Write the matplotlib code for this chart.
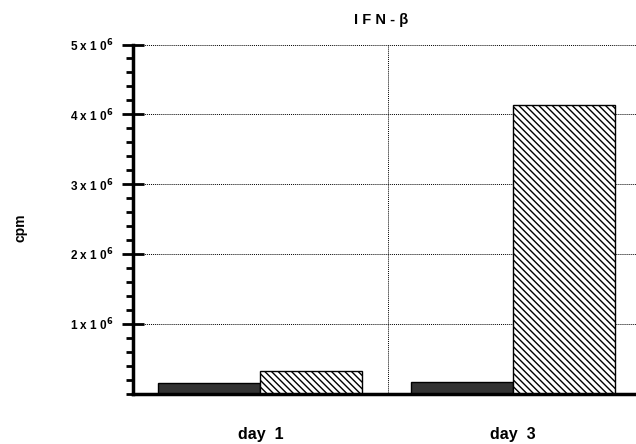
import matplotlib
matplotlib.use("Agg")
import matplotlib.pyplot as plt
from matplotlib.ticker import FixedLocator, MultipleLocator, FuncFormatter

plt.rcParams['font.family'] = ['Liberation Sans', 'DejaVu Sans']
plt.rcParams['mathtext.default'] = 'bf'
plt.rcParams['hatch.linewidth'] = 1.0

# data
days = ["day  1", "day  3"]
solid_vals = [0.146e6, 0.16e6]
hatched_vals = [0.327e6, 4.13e6]
group_centers = [0.5, 1.49]
major_ticks = [1e6, 2e6, 3e6, 4e6, 5e6]

fig = plt.figure(figsize=(6.36, 4.44), dpi=100)
ax = fig.add_axes([0.209, 0.1137, 0.802, 0.786])

w = 0.4
ax.bar([c - w / 2 for c in group_centers], solid_vals, width=w,
       color='#333333', edgecolor='black', linewidth=1.0, zorder=3)
ax.bar([c + w / 2 for c in group_centers], hatched_vals, width=w,
       color='white', edgecolor='black', linewidth=1.0,
       hatch='\\\\\\\\\\', zorder=3)

ax.set_xlim(0, 2)
ax.set_ylim(0, 5e6)

ax.yaxis.set_major_locator(FixedLocator(major_ticks))
ax.yaxis.set_minor_locator(MultipleLocator(0.2e6))
ax.yaxis.set_major_formatter(FuncFormatter(
    lambda v, p: r'%d x 1 0$^{6}$' % round(v / 1e6)))
ax.tick_params(axis='y', which='major', direction='inout', length=16,
               width=2.0, labelsize=8.5, pad=6)
ax.tick_params(axis='y', which='minor', direction='out', length=5, width=2.0)
for lab in ax.get_yticklabels():
    lab.set_fontweight('bold')

ax.set_xticks(group_centers)
ax.set_xticklabels(days, fontsize=11.5, fontweight='bold')
ax.tick_params(axis='x', length=0, pad=24)

for t in major_ticks:
    ax.axhline(t, color='black', linestyle=(0, (1, 1)), linewidth=0.7, zorder=1)
ax.axvline(1, color='black', linestyle=(0, (1, 1)), linewidth=0.7, zorder=1)

ax.spines['top'].set_visible(False)
ax.spines['right'].set_visible(False)
ax.spines['left'].set_linewidth(2.5)
ax.spines['bottom'].set_linewidth(2.5)
ax.spines['left'].set_zorder(4)
ax.spines['bottom'].set_zorder(4)

fig.text(381 / 636, 1 - 20 / 444, 'I F N - β', ha='center', va='center',
         fontsize=10.5, fontweight='bold')
fig.text(20 / 636, 1 - 228 / 444, 'cpm', ha='center', va='center',
         rotation=90, fontsize=10, fontweight='bold')

fig.savefig('out.png', dpi=100)
